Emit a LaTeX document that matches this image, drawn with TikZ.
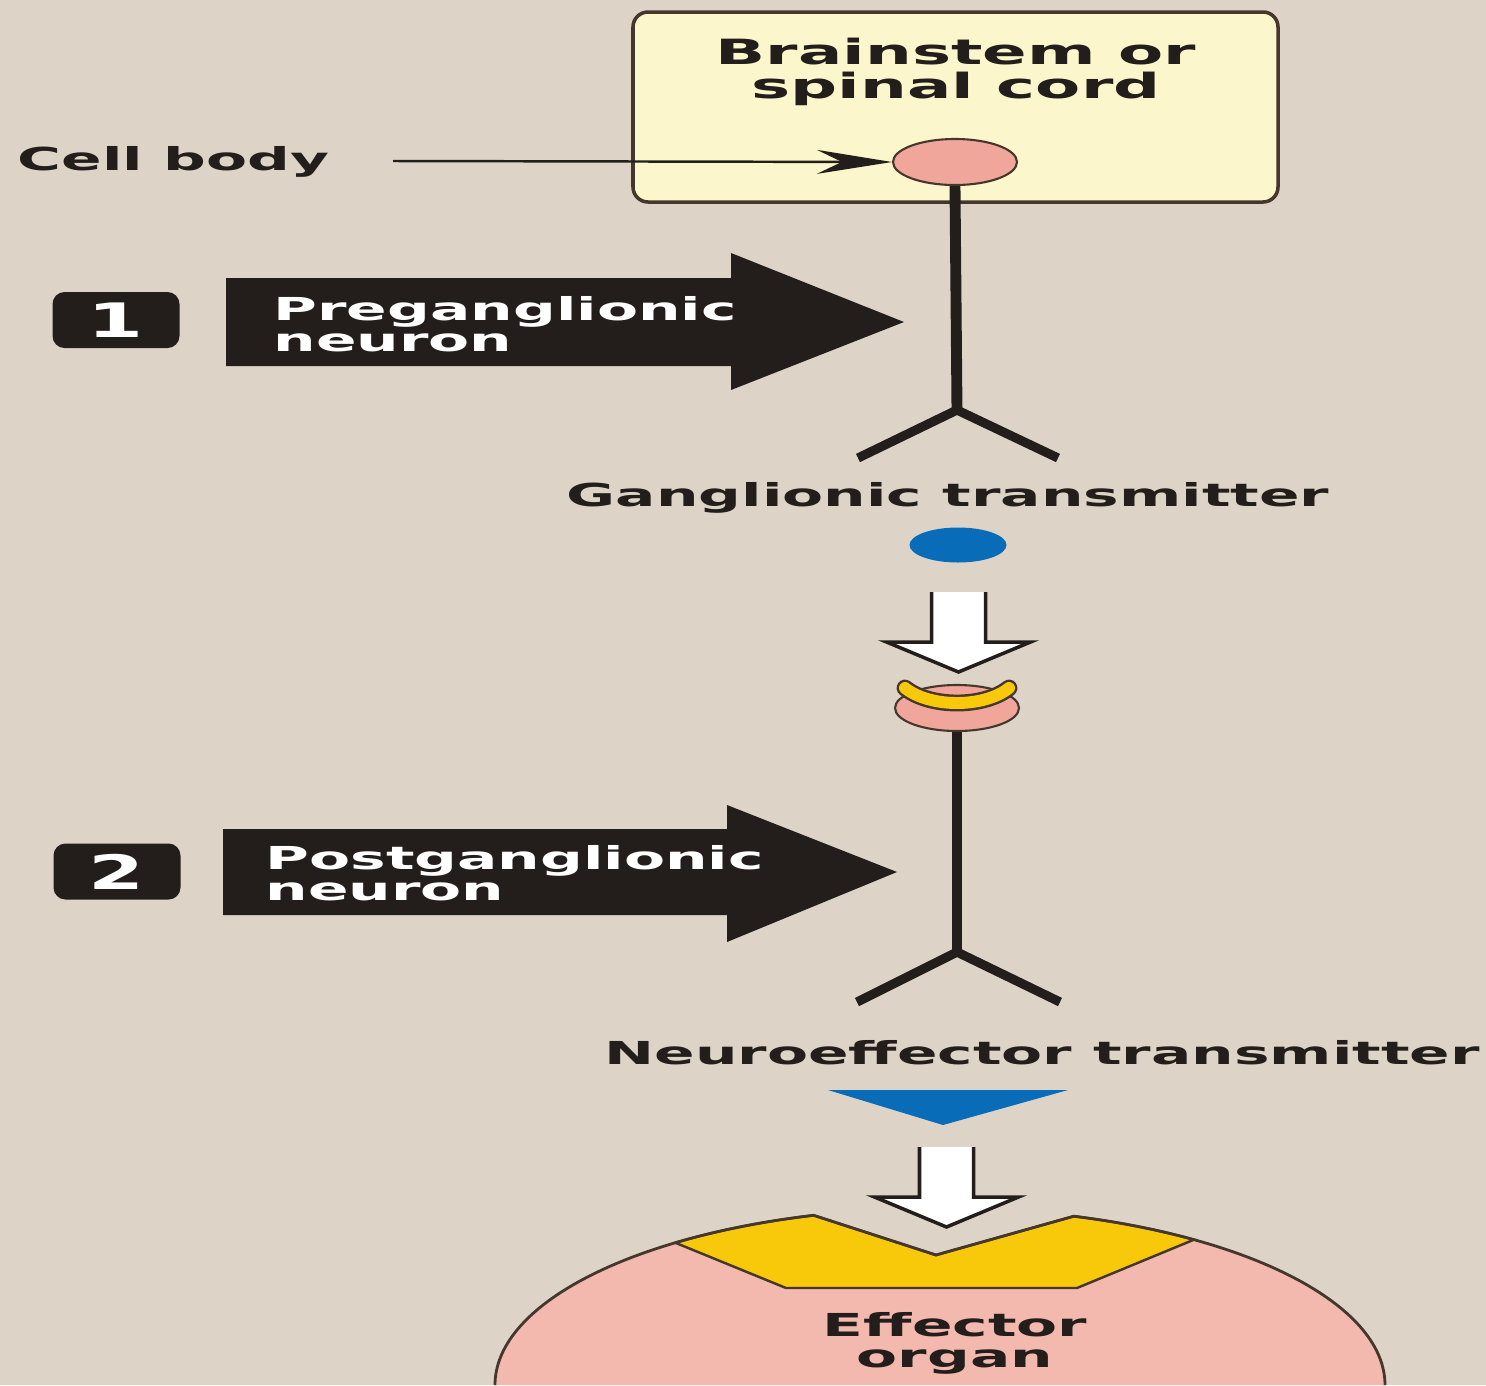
\documentclass[tikz,border=0pt]{standalone}
\usepackage{fontspec}
\usetikzlibrary{arrows.meta,shapes.geometric}
\newfontfamily\lblfont{DejaVu Sans Bold}[FakeStretch=1.89]
\newfontfamily\numfont{DejaVu Sans Bold}[FakeStretch=1.7]
\definecolor{bgtan}{RGB}{221,212,199}
\definecolor{cnsyellow}{RGB}{251,246,203}
\definecolor{somapink}{RGB}{241,166,155}
\definecolor{organpink}{RGB}{243,184,174}
\definecolor{recyellow}{RGB}{248,200,10}
\definecolor{transblue}{RGB}{8,108,184}
\definecolor{inkdark}{RGB}{35,30,27}
\definecolor{edgedark}{RGB}{70,55,45}

\begin{document}
\begin{tikzpicture}[x=1cm, y=1cm,
	lbl/.style={font=\lblfont\fontsize{9}{10}\selectfont, text=inkdark, inner sep=0pt},
	title/.style={font=\lblfont\fontsize{9.9}{10}\selectfont},
	cnsbox/.style={draw=edgedark, line width=1pt, fill=cnsyellow, rounded corners=0.15cm, minimum width=6.45cm, minimum height=1.90cm},
	soma/.style={ellipse, draw=edgedark, line width=0.6pt, fill=somapink, minimum width=1.24cm, minimum height=0.46cm, inner sep=0pt},
	numbox/.style={fill=inkdark, rounded corners=0.12cm, minimum width=1.27cm, minimum height=0.56cm, inner sep=0pt, text=white, font=\numfont\fontsize{13.5}{13.5}\selectfont},
	axon/.style={draw=inkdark, line width=3.1pt},
	branch/.style={draw=inkdark, line width=2.6pt, line join=miter},
	pointer/.style={draw=inkdark, line width=0.7pt, -{Stealth[length=0.75cm, width=0.24cm, inset=0.25cm]}},
	ach/.style={ellipse, fill=transblue, minimum width=0.97cm, minimum height=0.35cm, inner sep=0pt},
	hollowdown/.pic={
		\fill[white] (-0.27,0) -- (-0.27,-0.50) -- (-0.72,-0.50) -- (0,-0.80) -- (0.72,-0.50) -- (0.27,-0.50) -- (0.27,0) -- cycle;
		\draw[inkdark, line width=1pt] (-0.27,0) -- (-0.27,-0.50) -- (-0.72,-0.50) -- (0,-0.80) -- (0.72,-0.50) -- (0.27,-0.50) -- (0.27,0);
	}]
	\useasboundingbox (0,0) rectangle (14.86,-13.85);
	\fill[bgtan] (0,0) rectangle (14.86,-13.85);

	\node[cnsbox] (cns) at (9.555,-1.07) {};
	\node[lbl, title, anchor=base] (cns1) at (9.56,-0.64) {Brainstem or};
	\node[lbl, title, anchor=base] (cns2) at (9.56,-0.98) {spinal cord};

	\node[lbl, anchor=base west] (somalbl) at (0.17,-1.70) {Cell body};
	\coordinate (somatail) at (3.93,-1.61);
	\coordinate (fork1) at (9.57,-4.10);
	\coordinate (br1l) at (8.58,-4.58);
	\coordinate (br1r) at (10.58,-4.58);
	\node[soma] (soma) at (9.55,-1.62) {};
	\draw[axon] (soma.south) -- (fork1);
	\draw[branch] (br1l) -- (fork1) -- (br1r);
	\draw[pointer] (somatail) -- (soma.west);

	\node[numbox] (num1) at (1.16,-3.20) {1};
	\fill[inkdark] (2.26,-2.78) -- (7.31,-2.78) -- (7.31,-2.53) -- (9.04,-3.22) -- (7.31,-3.90) -- (7.31,-3.66) -- (2.26,-3.66) -- cycle;
	\node[lbl, text=white, anchor=base west] (pre1) at (2.73,-3.20) {Preganglionic};
	\node[lbl, text=white, anchor=base west] (pre2) at (2.73,-3.51) {neuron};

	\node[lbl, anchor=base west] (gtranslbl) at (5.66,-5.06) {Ganglionic transmitter};
	\node[ach] (gtrans) at (9.58,-5.45) {};
	\pic at (9.585,-5.92) {hollowdown};

	\coordinate (fork2) at (9.57,-9.52);
	\coordinate (br2l) at (8.57,-10.02);
	\coordinate (br2r) at (10.60,-10.02);
	\node[soma] (rcpt) at (9.57,-7.08) {};
	\draw[edgedark, line width=4.8pt, line cap=round] (9.05,-6.88) .. controls (9.30,-7.08) and (9.84,-7.08) .. (10.09,-6.88);
	\draw[recyellow, line width=3.4pt, line cap=round] (9.05,-6.88) .. controls (9.30,-7.08) and (9.84,-7.08) .. (10.09,-6.88);
	\draw[axon] (rcpt.south) -- (fork2);
	\draw[branch] (br2l) -- (fork2) -- (br2r);

	\node[numbox] (num2) at (1.17,-8.715) {2};
	\fill[inkdark] (2.23,-8.29) -- (7.27,-8.29) -- (7.27,-8.05) -- (8.97,-8.72) -- (7.27,-9.42) -- (7.27,-9.15) -- (2.23,-9.15) -- cycle;
	\node[lbl, text=white, anchor=base west] (post1) at (2.65,-8.69) {Postganglionic};
	\node[lbl, text=white, anchor=base west] (post2) at (2.65,-9.00) {neuron};

	\node[lbl, anchor=base west] (ntranslbl) at (6.04,-10.64) {Neuroeffector transmitter};
	\fill[transblue] (8.28,-10.90) -- (10.68,-10.90) -- (9.43,-11.25) -- cycle;
	\pic at (9.465,-11.47) {hollowdown};

	\coordinate (organc) at (9.40,-13.85);
	\coordinate (notch) at (9.36,-12.55);
	\fill[organpink] (organc) ++(180:4.45 and 1.77) arc[start angle=180, end angle=106.5, x radius=4.45, y radius=1.77] -- (notch) -- (10.738,-12.162) arc[start angle=72.5, end angle=0, x radius=4.45, y radius=1.77] -- cycle;
	\filldraw[fill=recyellow, draw=edgedark, line width=0.7pt] (organc) ++(126.5:4.45 and 1.77) arc[start angle=126.5, end angle=106.5, x radius=4.45, y radius=1.77] -- (notch) -- (10.738,-12.162) arc[start angle=72.5, end angle=55.2, x radius=4.45, y radius=1.77] -- (10.77,-12.88) -- (7.86,-12.88) -- cycle;
	\draw[edgedark, line width=0.8pt] (organc) ++(180:4.45 and 1.77) arc[start angle=180, end angle=106.5, x radius=4.45, y radius=1.77] -- (notch) -- (10.738,-12.162) arc[start angle=72.5, end angle=0, x radius=4.45, y radius=1.77];
	\node[lbl, anchor=base] (eff1) at (9.55,-13.36) {Effector};
	\node[lbl, anchor=base] (eff2) at (9.55,-13.67) {organ};
\end{tikzpicture}
\end{document}
